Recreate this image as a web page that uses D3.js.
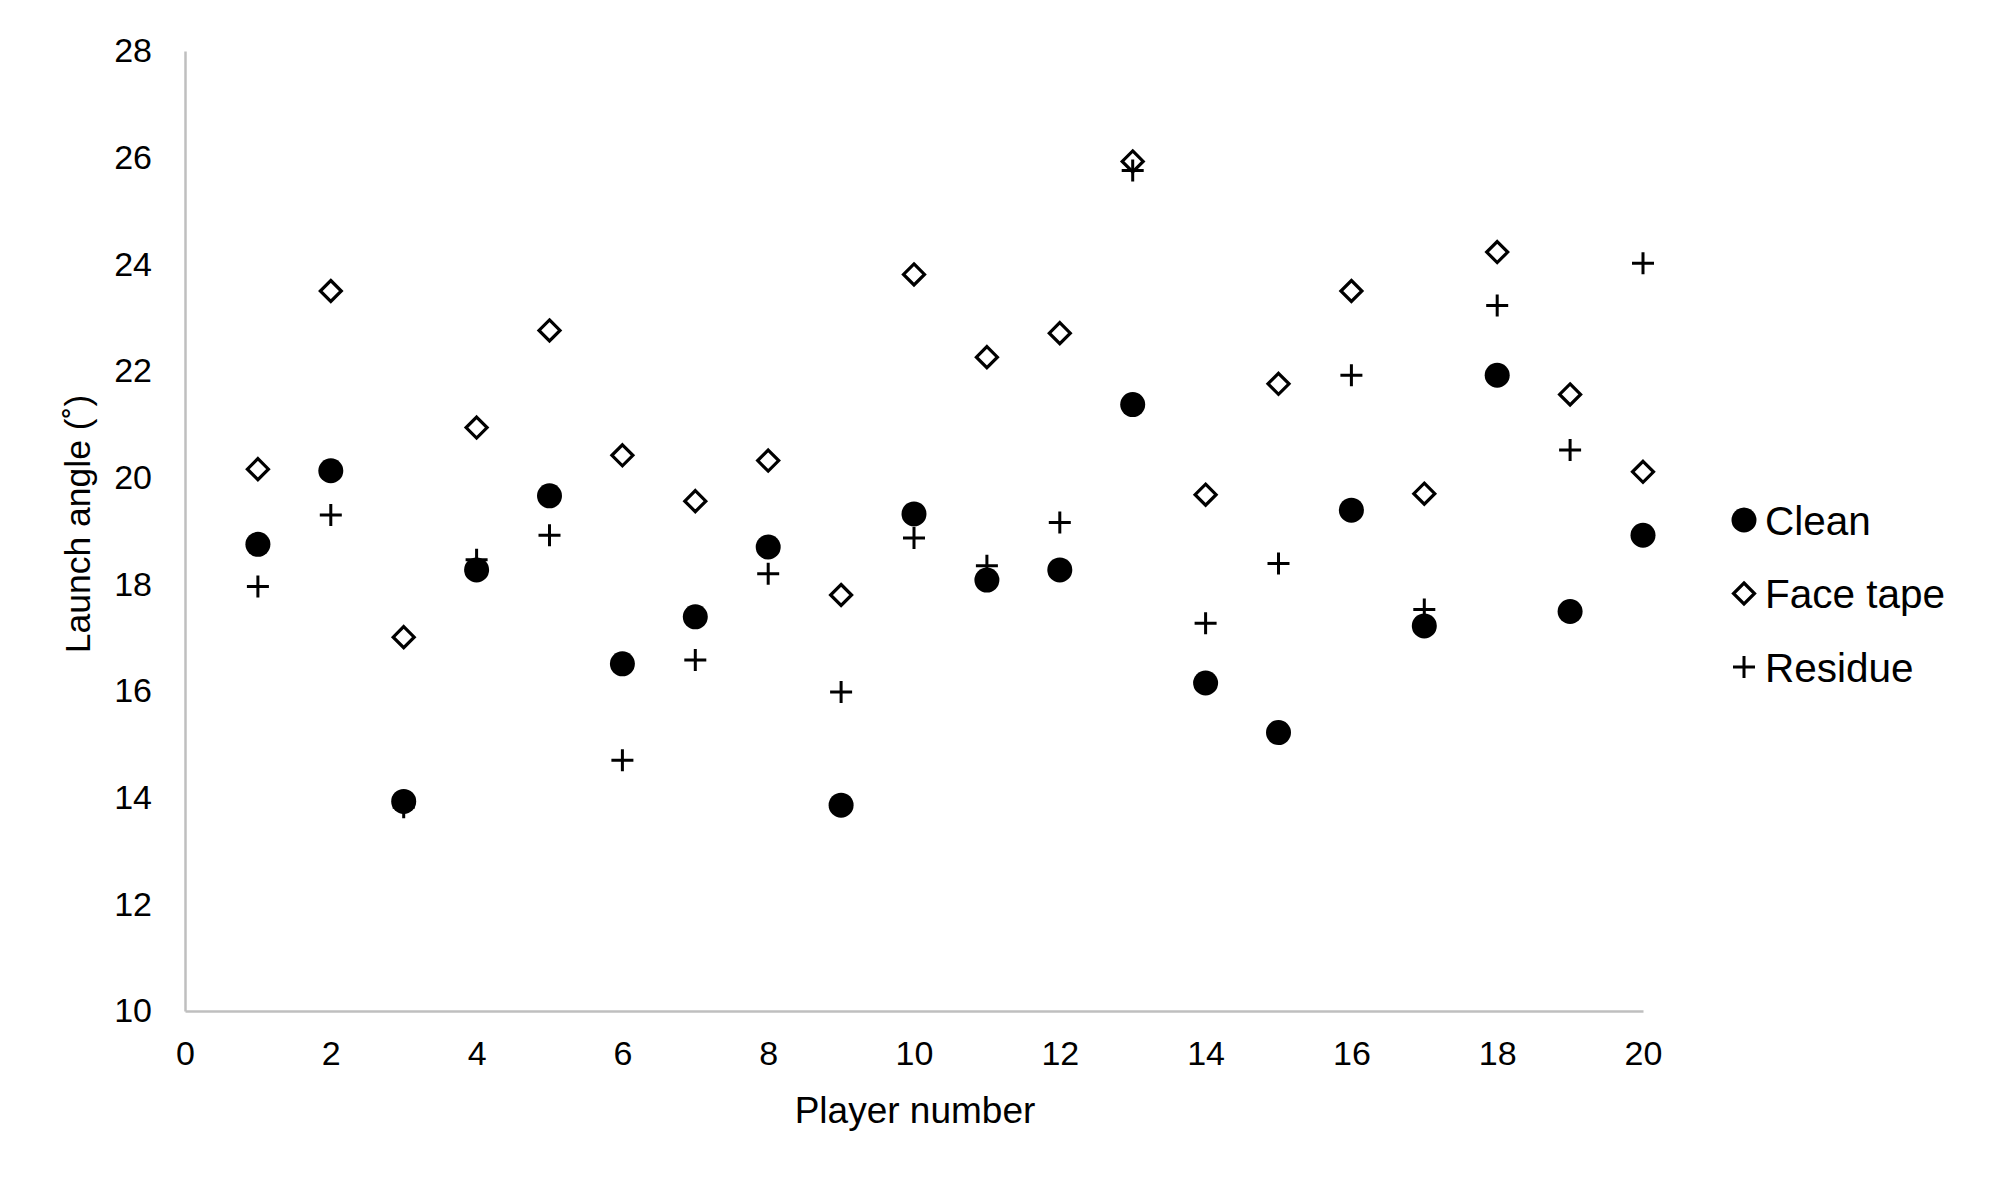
<!DOCTYPE html>
<html>
<head>
<meta charset="utf-8">
<script src="https://cdn.jsdelivr.net/npm/d3@7"></script>
<style>
  body { margin: 0; background: #fff; }
  text { font-family: "Liberation Sans", Arial, sans-serif; fill: #000; }
  .axis path, .axis line { stroke: #bfbfbf; stroke-width: 2.5px; }
</style>
</head>
<body>
<div id="chart"></div>
<script>
// Player numbers 1..20
var players = [1, 2, 3, 4, 5, 6, 7, 8, 9, 10, 11, 12, 13, 14, 15, 16, 17, 18, 19, 20];

// Launch angle (deg) per condition
var clean = [18.75, 20.13, 13.93, 18.27, 19.66, 16.51, 17.39, 18.70, 13.86, 19.32,
             18.08, 18.27, 21.37, 16.15, 15.22, 19.39, 17.22, 21.92, 17.49, 18.92];
var faceTape = [20.16, 23.50, 17.01, 20.94, 22.76, 20.42, 19.56, 20.32, 17.80, 23.81,
                22.26, 22.71, 25.93, 19.68, 21.76, 23.50, 19.70, 24.23, 21.56, 20.11];
var residue = [17.96, 19.30, 13.82, 18.46, 18.92, 14.70, 16.58, 18.20, 15.98, 18.87,
               18.35, 19.16, 25.76, 17.27, 18.39, 21.92, 17.53, 23.23, 20.52, 24.02];

var seriesNames = ["Clean", "Face tape", "Residue"];
var xTicks = [0, 2, 4, 6, 8, 10, 12, 14, 16, 18, 20];
var yTicks = [10, 12, 14, 16, 18, 20, 22, 24, 26, 28];

var width = 1994,
    height = 1188;

var x = d3.scaleLinear().domain([0, 20]).range([185, 1643]);
var y = d3.scaleLinear().domain([10, 28]).range([1011, 51]);

var svg = d3.select("#chart").append("svg")
    .attr("width", width)
    .attr("height", height);

// axes (no tick marks, grey lines only)
var xAxis = d3.axisBottom(x).tickValues(xTicks).tickSize(0).tickPadding(30);
var yAxis = d3.axisLeft(y).tickValues(yTicks).tickSize(0).tickPadding(33);

svg.append("g")
    .attr("class", "axis")
    .attr("transform", "translate(0," + y(10) + ")")
    .call(xAxis)
    .call(g => g.selectAll("text").style("font-size", "34px").attr("dy", "0.71em"));

svg.append("g")
    .attr("class", "axis")
    .attr("transform", "translate(" + x(0) + ",0)")
    .call(yAxis)
    .call(g => g.selectAll("text").style("font-size", "34px"));

svg.selectAll(".axis text").style("fill", "#000");
svg.selectAll(".axis .domain").attr("stroke", "#bfbfbf");

// axis titles
svg.append("text")
    .attr("x", 915)
    .attr("y", 1123)
    .attr("text-anchor", "middle")
    .style("font-size", "37px")
    .text("Player number");

svg.append("text")
    .attr("transform", "translate(90,524) rotate(-90)")
    .attr("text-anchor", "middle")
    .style("font-size", "35.5px")
    .text("Launch angle (˚)");

// markers
var circleSym = d3.symbol().type(d3.symbolCircle).size(Math.PI * 12.5 * 12.5);
var diamondPath = function (s) {
    return "M0," + (-s) + "L" + s + ",0L0," + s + "L" + (-s) + ",0Z";
};
var plusPath = function (s) {
    return "M" + (-s) + ",0H" + s + "M0," + (-s) + "V" + s;
};

function drawMarker(g, name) {
    if (name === "Clean") {
        g.append("path").attr("d", circleSym()).attr("fill", "#000");
    } else if (name === "Face tape") {
        g.append("path").attr("d", diamondPath(10.5))
            .attr("fill", "#fff").attr("stroke", "#000").attr("stroke-width", 3.2);
    } else {
        g.append("path").attr("d", plusPath(11))
            .attr("fill", "none").attr("stroke", "#000").attr("stroke-width", 3);
    }
}

var series = [
    { name: "Clean", values: clean },
    { name: "Face tape", values: faceTape },
    { name: "Residue", values: residue }
];

series.forEach(function (s) {
    svg.append("g").selectAll("g")
        .data(players)
        .enter().append("g")
        .attr("transform", function (d, i) {
            return "translate(" + x(d) + "," + y(s.values[i]) + ")";
        })
        .each(function () { drawMarker(d3.select(this), s.name); });
});

// legend
var legend = svg.append("g")
    .attr("transform", "translate(1744,520)");

legend.selectAll("g")
    .data(seriesNames)
    .enter().append("g")
    .attr("transform", function (d, i) { return "translate(0," + i * 73.5 + ")"; })
    .each(function (d) {
        var g = d3.select(this);
        drawMarker(g, d);
        g.append("text")
            .attr("x", 21)
            .attr("dy", "0.36em")
            .style("font-size", "40.5px")
            .text(d);
    });
</script>
</body>
</html>
